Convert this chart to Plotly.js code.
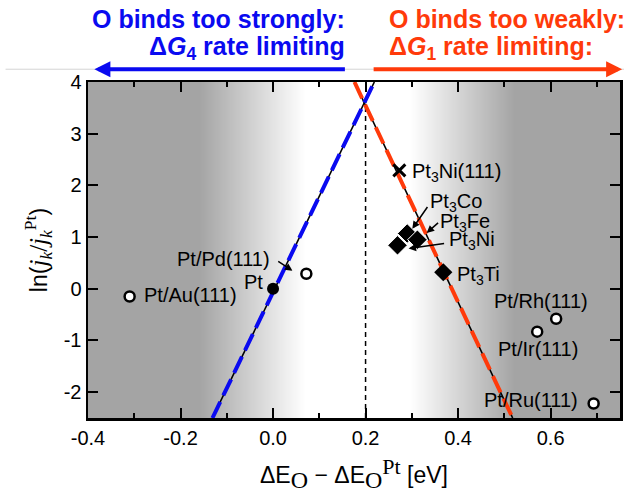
<!DOCTYPE html>
<html>
<head>
<meta charset="utf-8">
<script src="https://cdn.plot.ly/plotly-3.0.1.min.js"></script>
<style>html,body{margin:0;padding:0;background:#fff;}#chart{width:624px;height:495px;}</style>
</head>
<body>
<div id="chart"></div>
<script>
// ---- data ----
var openLabels = ["Pt/Au(111)", "Pt/Pd(111)", "Pt/Rh(111)", "Pt/Ir(111)", "Pt/Ru(111)"];
var openX = [-0.31, 0.072, 0.612, 0.571, 0.693];
var openY = [-0.15, 0.29, -0.58, -0.83, -2.22];

var ptX = [0.0];
var ptY = [0.0];

var alloyLabels = ["Pt3Co", "Pt3Fe", "Pt3Ni"];
var alloyX = [0.290, 0.312, 0.269];
var alloyY = [1.07, 0.95, 0.84];

var tiX = [0.368];
var tiY = [0.32];

var ni111X = [0.273];
var ni111Y = [2.29];

// volcano legs
var blueLegX = [-0.131, 0.219];
var blueLegY = [-2.5, 4.0];
var redLegX = [0.176, 0.518];
var redLegY = [4.0, -2.5];

// vertical reference at Pt optimum
var refX = [0.2, 0.2];
var refY = [-2.5, 3.7];

// background shading stops (x position, 0 = grey, 1 = white)
var bgX = [-0.4, -0.16, 0.07, 0.295, 0.52, 0.75];
var bgLevel = [0, 0, 1, 1, 0, 0];
var bgY = [-2.5, 4.0];

// tick labels
var xTickVals = [-0.4, -0.2, 0.0, 0.2, 0.4, 0.6];
var xTickText = ["-0.4", "-0.2", "0.0", "0.2", "0.4", "0.6"];
var xMinorVals = [-0.3, -0.1, 0.1, 0.3, 0.5, 0.7];
var yTickVals = [-2, -1, 0, 1, 2, 3, 4];
var yTickText = ["-2", "-1", "0", "1", "2", "3", "4"];

var FONT = "Liberation Sans, Arial, Helvetica, sans-serif";
var SERIF = "Liberation Serif, Times New Roman, serif";
var BLUE = "#0a0af0";
var RED = "#ff3a0a";

var traces = [
  {type: "heatmap", x: bgX, y: bgY, z: [bgLevel, bgLevel], zsmooth: "best",
   colorscale: [[0, "#a4a4a4"], [1, "#ffffff"]], showscale: false, hoverinfo: "skip", zmin: 0, zmax: 1},
  {type: "scatter", mode: "lines", x: refX, y: refY,
   line: {color: "#000", width: 1.5, dash: "5px,4px"}, hoverinfo: "skip"},
  {type: "scatter", mode: "lines", x: blueLegX, y: blueLegY,
   line: {color: "#000", width: 1.6}, hoverinfo: "skip"},
  {type: "scatter", mode: "lines", x: redLegX, y: redLegY,
   line: {color: "#000", width: 1.6}, hoverinfo: "skip"},
  {type: "scatter", mode: "lines", x: blueLegX, y: blueLegY,
   line: {color: BLUE, width: 4, dash: "18px,7px"}, hoverinfo: "skip"},
  {type: "scatter", mode: "lines", x: redLegX, y: redLegY,
   line: {color: RED, width: 4, dash: "18px,7px"}, hoverinfo: "skip"},
  {type: "scatter", mode: "markers", x: openX, y: openY, text: openLabels,
   marker: {symbol: "circle", size: 10, color: "#fff", line: {color: "#000", width: 2.5}}},
  {type: "scatter", mode: "markers", x: ptX, y: ptY,
   marker: {symbol: "circle", size: 12, color: "#000"}},
  {type: "scatter", mode: "markers", x: alloyX, y: alloyY, text: alloyLabels,
   marker: {symbol: "diamond", size: 15, color: "#000", line: {color: "#fff", width: 1}}},
  {type: "scatter", mode: "markers", x: tiX, y: tiY,
   marker: {symbol: "diamond", size: 14, color: "#000"}},
  {type: "scatter", mode: "markers", x: ni111X, y: ni111Y,
   marker: {symbol: "x-thin", size: 12, line: {color: "#000", width: 3}}}
];

function lab(x, y, t, anchor) {
  return {x: x, y: y, xref: "x", yref: "y", text: t, showarrow: false,
          xanchor: anchor || "left", yanchor: "middle", font: {size: 20, color: "#000", family: FONT}};
}
function arr(x, y, ax, ay) {
  return {x: x, y: y, ax: ax, ay: ay, xref: "x", yref: "y", axref: "x", ayref: "y",
          text: "", showarrow: true, arrowhead: 2, arrowsize: 1, arrowwidth: 1.5, arrowcolor: "#000"};
}
function head(x, y, t, anchor, color) {
  return {xref: "paper", yref: "paper", x: x, y: y, xanchor: anchor, yanchor: "middle",
          showarrow: false, text: "<b>" + t + "</b>", font: {size: 25, color: color, family: FONT}};
}

var annotations = [
  lab(openX[0] + 0.026, openY[0] + 0.02, openLabels[0]),
  lab(-0.002, 0.57, openLabels[1], "right"),
  lab(-0.043, 0.14, "Pt", "center"),
  lab(0.474, -0.23, openLabels[2]),
  lab(0.483, -1.17, openLabels[3]),
  lab(0.452, -2.16, openLabels[4]),
  lab(0.297, 2.25, "Pt<sub>3</sub>Ni(111)"),
  lab(0.336, 1.66, "Pt<sub>3</sub>Co"),
  lab(0.356, 1.28, "Pt<sub>3</sub>Fe"),
  lab(0.377, 0.93, "Pt<sub>3</sub>Ni"),
  lab(0.394, 0.26, "Pt<sub>3</sub>Ti"),
  arr(0.042, 0.35, 0.008, 0.55),
  arr(0.301, 1.16, 0.336, 1.61),
  arr(0.332, 1.08, 0.360, 1.30),
  arr(0.293, 0.78, 0.373, 0.88),
  // top headers
  head(0.487, 1.188, "O binds too strongly:", "right", BLUE),
  head(0.487, 1.100, "Δ<i>G</i><sub>4</sub> rate limiting", "right", BLUE),
  head(0.562, 1.188, "O binds too weakly:", "left", RED),
  head(0.562, 1.100, "Δ<i>G</i><sub>1</sub> rate limiting:", "left", RED),
  {xref: "paper", yref: "paper", x: 0.012, y: 1.038, axref: "pixel", ayref: "pixel", ax: 252, ay: 0,
   text: "", showarrow: true, arrowhead: 2, arrowsize: 0.8, arrowwidth: 4, arrowcolor: BLUE},
  {xref: "paper", yref: "paper", x: 1.004, y: 1.038, axref: "pixel", ayref: "pixel", ax: -250, ay: 0,
   text: "", showarrow: true, arrowhead: 2, arrowsize: 0.8, arrowwidth: 4, arrowcolor: RED}
];

var layout = {
  width: 624, height: 495,
  margin: {l: 88, r: 4, t: 81.5, b: 76.5, pad: 0},
  paper_bgcolor: "#fff", plot_bgcolor: "#a4a4a4",
  showlegend: false,
  font: {family: FONT, size: 20, color: "#000"},
  xaxis: {
    range: [-0.4, 0.75], tickmode: "array", tickvals: xTickVals, ticktext: xTickText,
    ticks: "inside", ticklen: 10, tickwidth: 2, tickcolor: "#000",
    minor: {tickmode: "array", tickvals: xMinorVals, ticks: "inside", ticklen: 5, tickwidth: 2, tickcolor: "#000"},
    showline: true, linewidth: 2.5, linecolor: "#000", mirror: "ticks",
    showgrid: false, zeroline: false, tickfont: {size: 20},
    title: {text: "ΔE<sub><span style=\"font-family:" + SERIF + "; font-size:24px\">O</span></sub> − ΔE<sub><span style=\"font-family:" + SERIF + "; font-size:24px\">O</span></sub><sup><span style=\"font-family:" + SERIF + "; font-size:22px\">Pt</span></sup> [eV]",
            font: {size: 23}, standoff: 20}
  },
  yaxis: {
    range: [-2.5, 4], tickmode: "array", tickvals: yTickVals, ticktext: yTickText,
    ticks: "inside", ticklen: 10, tickwidth: 2, tickcolor: "#000",
    showline: true, linewidth: 2.5, linecolor: "#000", mirror: "ticks",
    showgrid: false, zeroline: false, tickfont: {size: 20},
    title: {text: "ln(<span style=\"font-family:" + SERIF + "; font-size:25px\"><i>j</i><sub><i>k</i></sub>/<i>j</i><sub><i>k</i></sub><sup>Pt</sup></span>)",
            font: {size: 23}, standoff: 10}
  },
  shapes: [
    {type: "line", xref: "paper", yref: "paper", x0: -0.155, x1: 1.01, y0: 1.038, y1: 1.038,
     line: {color: "#d4d4d4", width: 1}, layer: "below"}
  ],
  annotations: annotations
};

Plotly.newPlot("chart", traces, layout, {staticPlot: true, displayModeBar: false});
</script>
</body>
</html>
